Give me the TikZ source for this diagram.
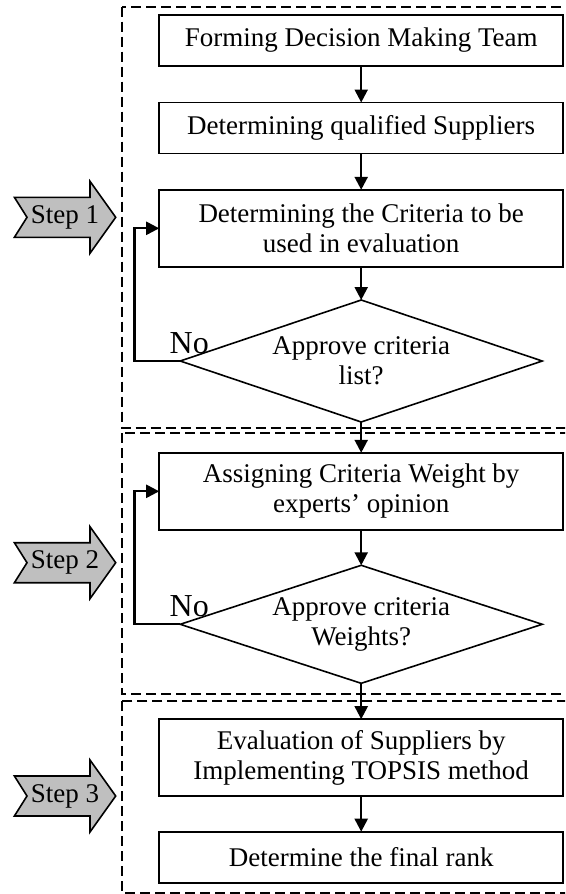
\documentclass[tikz,border=0pt]{standalone}
\usepackage{fontspec}
\setmainfont{Liberation Serif}
\usetikzlibrary{shapes.geometric,arrows.meta}

\begin{document}
\begin{tikzpicture}[x=1pt, y=1pt, font=\fontsize{27}{30}\selectfont,
	procbox/.style={draw, line width=1.7pt, minimum width=404pt, minimum height=51pt, inner sep=4pt, outer sep=0pt, align=center},
	tallbox/.style={procbox, minimum height=77pt},
	decision/.style={draw, diamond, aspect=3, line width=1.6pt, minimum width=362pt, minimum height=122pt, inner sep=0pt, outer sep=0pt, align=center},
	flow/.style={-{Triangle[length=13pt,width=13pt]}, line width=2.3pt},
	stagebox/.style={line width=2.2pt, dash pattern=on 10pt off 5pt},
	steparrow/.style={draw, line width=1.6pt, fill=gray!50},
	nolabel/.style={anchor=base west, font=\fontsize{32}{36}\selectfont}]
	\useasboundingbox (0,0) rectangle (565,-894);
	\clip (0,0) rectangle (565,-894);
	% dashed frames of the three steps
	\draw[stagebox] (122.3,-6.7) rectangle (580,-428.3);
	\draw[stagebox] (122.3,-433.3) rectangle (580,-694.3);
	\draw[stagebox] (122.3,-701) rectangle (580,-893.3);
	% step arrows
	\draw[steparrow] (14.4,-197.3)--(90,-197.3)--(90,-181.3)--(115.7,-217.3)--(90,-253.3)--(90,-237.3)--(14.4,-237.3)--(27,-217.3)--cycle;
	\draw[steparrow] (14.4,-542.7)--(90,-542.7)--(90,-526.7)--(115.7,-562.7)--(90,-598.7)--(90,-582.7)--(14.4,-582.7)--(27,-562.7)--cycle;
	\draw[steparrow] (14.4,-776)--(90,-776)--(90,-760)--(115.7,-796)--(90,-832)--(90,-816)--(14.4,-816)--(27,-796)--cycle;
	\node (step1) at (65,-217.3) {Step 1};
	\node (step2) at (65,-562.7) {Step 2};
	\node (step3) at (65,-796) {Step 3};
	% flow chart
	\node[procbox] (form) at (361.2,-40.5) {Forming Decision Making Team};
	\node[procbox] (qual) at (361.2,-128) {Determining qualified Suppliers};
	\node[tallbox] (crit) at (361.2,-228.3) {Determining the Criteria to be\\used in evaluation};
	\node[decision] (apcrit) at (361.2,-361) {Approve criteria\\list?};
	\node[tallbox] (weight) at (361.2,-491.3) {Assigning Criteria Weight by\\experts’ opinion};
	\node[decision, minimum height=118pt] (apweight) at (361.2,-624.3) {Approve criteria\\Weights?};
	\node[tallbox] (topsis) at (361.2,-757.7) {Evaluation of Suppliers by\\Implementing TOPSIS method};
	\node[procbox] (rank) at (361.2,-857.2) {Determine the final rank};
	\draw[flow] (form) -- (qual);
	\draw[flow] (qual) -- (crit);
	\draw[flow] (crit) -- (apcrit);
	\draw[flow] (apcrit) -- (weight);
	\draw[flow] (weight) -- (apweight);
	\draw[flow] (apweight) -- (topsis);
	\draw[flow] (topsis) -- (rank);
	% loops back when not approved
	\draw[flow] (apcrit.west) -- ++(-45.7,0) |- (crit.west);
	\draw[flow] (apweight.west) -- ++(-45.7,0) |- (weight.west);
	\node[nolabel] (no1) at ([xshift=-14pt,yshift=7.5pt]apcrit.west) {No};
	\node[nolabel] (no2) at ([xshift=-14pt,yshift=7.5pt]apweight.west) {No};
\end{tikzpicture}
\end{document}
